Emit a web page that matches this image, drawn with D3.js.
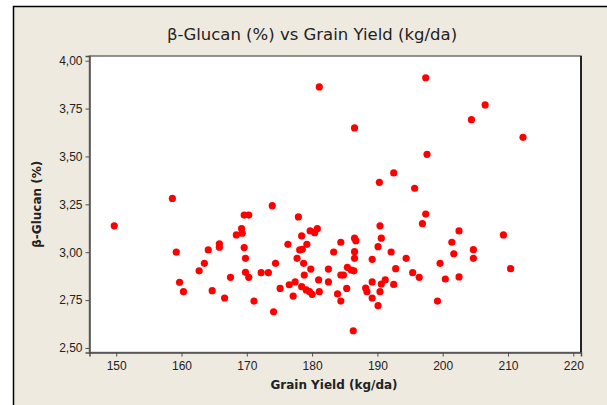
<!DOCTYPE html>
<html>
<head>
<meta charset="utf-8">
<script src="https://cdn.jsdelivr.net/npm/d3@7"></script>
<style>
  body { margin: 0; background: #fff; }
  text { font-family: "Liberation Sans", Arial, sans-serif; fill: #222; }
</style>
</head>
<body>
<div id="chart"></div>
<script>
// grain yield (kg/da) and beta-glucan (%)
var yieldKg = [
  149.7, 158.6, 159.2, 159.7, 160.3, 162.7, 163.5, 164.1, 164.7, 165.8, 165.8, 166.6, 167.5,
  168.4, 169.2, 169.3, 169.6, 170.3, 169.6, 169.8, 169.8, 170.3, 171.1, 172.2, 173.3,
  173.9, 174.1, 174.4, 175.1, 176.3, 176.5, 177.1, 177.4, 177.7, 177.9, 178.1, 178.5,
  178.4, 178.4, 178.7, 178.8, 179.1, 179.2, 179.6, 179.7, 179.8, 180.0, 180.4, 180.8,
  181.0, 181.1, 181.1, 182.5, 182.5, 183.3, 183.9, 184.4, 184.4, 184.4, 184.8, 185.3, 185.4,
  186.0, 186.4, 186.3, 186.5, 186.7, 186.5, 186.5, 186.5, 188.2, 188.4, 189.2, 189.2, 189.2,
  190.1, 190.1, 190.3, 190.4, 190.4, 190.6, 190.6, 191.2, 192.1, 192.5, 192.5, 192.8,
  194.4, 195.4, 195.7, 196.4, 196.9, 197.4, 197.4, 197.6, 199.2, 199.6, 200.4, 201.4,
  201.7, 202.5, 202.5, 204.4, 204.7, 204.7, 206.5, 209.3, 210.4, 212.3
];
var glucan = [
  3.138, 3.281, 3.000, 2.843, 2.794, 2.903, 2.942, 3.012, 2.799, 3.043, 3.026, 2.761, 2.869,
  3.090, 3.123, 3.099, 3.194, 3.194, 3.024, 2.968, 2.895, 2.869, 2.745, 2.893, 2.893,
  3.243, 2.689, 2.942, 2.811, 3.041, 2.830, 2.771, 2.845, 2.968, 3.184, 3.012, 3.015,
  3.085, 2.820, 2.942, 2.881, 2.803, 3.041, 2.794, 3.111, 2.912, 2.780, 3.102, 3.123,
  2.855, 2.794, 3.863, 2.912, 2.845, 3.001, 2.782, 2.745, 3.052, 2.881, 2.881, 2.811, 2.921,
  2.907, 2.903, 2.590, 3.073, 3.060, 3.003, 2.968, 3.649, 2.813, 2.794, 2.963, 2.845, 2.761,
  3.029, 2.721, 3.365, 3.138, 2.794, 3.073, 2.834, 2.855, 3.001, 2.832, 3.414, 2.914,
  2.968, 2.893, 3.334, 2.869, 3.149, 3.199, 3.911, 3.511, 2.745, 2.942, 2.860, 3.052,
  2.992, 3.111, 2.871, 3.692, 3.013, 2.968, 3.769, 3.090, 2.914, 3.600
];
var xTicks = [150, 160, 170, 180, 190, 200, 210, 220];
var yTicks = [2.50, 2.75, 3.00, 3.25, 3.50, 3.75, 4.00];

var W = 607, H = 405;
var plot = { left: 89.5, right: 581, top: 56, bottom: 352.5 };

var svg = d3.select("#chart").append("svg")
    .attr("width", W)
    .attr("height", H);

// beige frame
svg.append("rect")
    .attr("x", 13.5).attr("y", 6.5)
    .attr("width", W).attr("height", H)
    .attr("fill", "#eeeae0")
    .attr("stroke", "#000")
    .attr("stroke-width", 1.5);

var x = d3.scaleLinear().domain([145.91, 221.18]).range([plot.left, plot.right]);
var y = d3.scaleLinear().domain([2.4763, 4.0245]).range([plot.bottom, plot.top]);

var comma = d3.formatLocale({ decimal: ",", thousands: ".", grouping: [3], currency: ["", ""] });

svg.append("rect")
    .attr("x", plot.left).attr("y", plot.top)
    .attr("width", plot.right - plot.left).attr("height", plot.bottom - plot.top)
    .attr("fill", "#fff")
    .attr("stroke", "#707070")
    .attr("stroke-width", 1.5);
svg.append("line")
    .attr("x1", plot.right).attr("x2", plot.right)
    .attr("y1", plot.top).attr("y2", plot.bottom)
    .attr("stroke", "#000").attr("stroke-width", 1.5);

var xAxis = svg.append("g")
    .attr("transform", "translate(0," + plot.bottom + ")")
    .call(d3.axisBottom(x).tickValues(xTicks).tickSizeOuter(0).tickSize(4).tickPadding(5));
var yAxis = svg.append("g")
    .attr("transform", "translate(" + plot.left + ",0)")
    .call(d3.axisLeft(y).tickValues(yTicks).tickSizeOuter(0).tickSize(4).tickPadding(3)
      .tickFormat(comma.format(".2f")));

[xAxis, yAxis].forEach(function(a) {
  a.select(".domain").attr("stroke", "#505050").attr("stroke-width", 1.5);
  a.selectAll(".tick line").attr("stroke", "#505050");
  a.selectAll(".tick text")
    .attr("fill", "#333")
    .style("font-size", "12px")
    .style("font-family", "'Liberation Sans', Arial, sans-serif");
});

svg.append("g").selectAll("circle")
    .data(yieldKg)
    .enter().append("circle")
    .attr("cx", function(d) { return x(d); })
    .attr("cy", function(d, i) { return y(glucan[i]); })
    .attr("r", 3.6)
    .attr("fill", "#ff0000");

svg.append("text")
    .attr("x", 312).attr("y", 40)
    .attr("text-anchor", "middle")
    .style("font-family", "'DejaVu Sans', sans-serif")
    .style("font-size", "16.5px")
    .text("β-Glucan (%) vs Grain Yield (kg/da)");

svg.append("text")
    .attr("x", 334).attr("y", 389)
    .attr("text-anchor", "middle")
    .style("font-family", "'DejaVu Sans', sans-serif")
    .style("font-size", "12px")
    .style("font-weight", "bold")
    .text("Grain Yield (kg/da)");

svg.append("text")
    .attr("transform", "translate(41," + ((plot.top + plot.bottom) / 2) + ") rotate(-90)")
    .attr("text-anchor", "middle")
    .style("font-family", "'DejaVu Sans', sans-serif")
    .style("font-size", "12px")
    .style("font-weight", "bold")
    .text("β-Glucan (%)");
</script>
</body>
</html>
